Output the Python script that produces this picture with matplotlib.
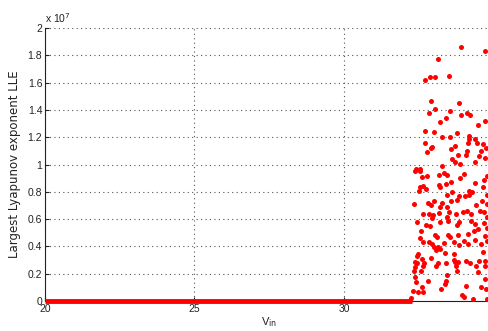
import matplotlib
matplotlib.use("Agg")
import matplotlib.pyplot as plt
from matplotlib.ticker import FuncFormatter

plt.rcParams['font.family'] = ['Liberation Sans', 'DejaVu Sans']

# LLE stays at zero up to this input voltage
zero_start = 20.0
zero_end = 32.27

# chaotic region: input voltage and largest Lyapunov exponent (in units of 1e7)
v_in = [
    33.90, 34.72, 33.14, 33.52, 32.71, 32.88, 33.05, 32.91, 33.04, 33.84,
    32.85, 33.55, 34.11, 34.21, 33.90, 33.43, 34.72, 33.21, 34.49, 32.71,
    33.00, 33.77, 34.19, 33.29, 33.55, 34.18, 34.38, 34.16, 34.46, 32.71,
    34.65, 33.70, 32.96, 32.92, 33.57, 34.75, 32.79, 34.12, 34.60, 33.80,
    34.08, 34.52, 34.72, 33.60, 33.72, 34.40, 33.89, 33.29, 32.55, 32.40,
    32.38, 32.54, 32.62, 32.77, 33.17, 33.35, 33.46, 34.03, 33.89, 34.78,
    33.59, 33.40, 33.17, 33.22, 34.69, 34.40, 32.65, 32.56, 32.75, 32.51,
    34.66, 34.19, 34.29, 33.60, 34.04, 34.17, 33.45, 34.78, 33.86, 33.01,
    32.82, 32.35, 33.28, 33.57, 33.77, 34.63, 32.92, 33.23, 33.45, 34.41,
    34.78, 33.50, 33.99, 34.11, 34.54, 34.69, 32.65, 32.83, 32.98, 33.17,
    33.74, 34.26, 32.96, 33.45, 34.78,
    32.45, 32.73, 32.87, 33.21, 33.47, 33.78, 33.86, 34.25, 34.40, 34.68,
    34.78, 32.57, 33.05, 33.13, 33.48, 33.55, 33.83, 34.16, 34.36, 34.47,
    34.72, 32.53, 32.64, 32.84, 32.93, 33.35, 33.68, 33.86, 34.01, 34.14,
    34.39, 34.58, 34.80, 33.02, 33.15, 33.08, 33.21, 33.38, 33.69, 34.65,
    32.47, 32.43, 32.90, 32.62, 32.37, 32.45, 32.68, 33.14, 33.41, 33.68,
    33.71, 33.82, 34.10, 34.22, 34.51, 34.73,
    32.39, 32.65, 33.07, 33.74, 34.41, 34.72, 32.36, 32.57, 33.77, 34.48,
    32.39, 32.40, 32.81, 33.44, 33.41, 34.72, 33.38, 33.25, 32.62, 34.08,
    34.60, 34.74, 32.31, 32.49, 32.64, 33.95, 34.02, 34.32, 34.78, 32.26,
]
lle = [
    1.86, 1.83, 1.77, 1.65, 1.62, 1.64, 1.64, 1.465, 1.41, 1.45,
    1.38, 1.39, 1.375, 1.36, 1.36, 1.34, 1.32, 1.31, 1.29, 1.245,
    1.236, 1.23, 1.21, 1.20, 1.20, 1.19, 1.19, 1.157, 1.16, 1.155,
    1.148, 1.135, 1.126, 1.12, 1.116, 1.12, 1.09, 1.097, 1.097, 1.07,
    1.072, 1.064, 1.05, 1.04, 1.018, 1.018, 1.004, 0.99, 0.965, 0.965,
    0.955, 0.95, 0.906, 0.915, 0.923, 0.935, 0.923, 0.93, 0.90, 0.915,
    0.87, 0.855, 0.848, 0.833, 0.886, 0.864, 0.842, 0.833, 0.82, 0.808,
    0.833, 0.808, 0.80, 0.80, 0.77, 0.774, 0.774, 0.774, 0.767, 0.73,
    0.716, 0.71, 0.716, 0.73, 0.737, 0.73, 0.70, 0.686, 0.689, 0.703,
    0.708, 0.65, 0.65, 0.66, 0.66, 0.652, 0.64, 0.64, 0.63, 0.643,
    0.64, 0.64, 0.606, 0.618, 0.615,
    0.577, 0.555, 0.547, 0.577, 0.584, 0.56, 0.579, 0.586, 0.564, 0.57,
    0.535, 0.513, 0.48, 0.467, 0.483, 0.469, 0.486, 0.488, 0.51, 0.525,
    0.478, 0.459, 0.434, 0.434, 0.418, 0.425, 0.432, 0.412, 0.437, 0.418,
    0.445, 0.418, 0.437, 0.396, 0.398, 0.371, 0.379, 0.352, 0.347, 0.361,
    0.342, 0.327, 0.317, 0.31, 0.284, 0.28, 0.276, 0.278, 0.28, 0.30,
    0.286, 0.283, 0.29, 0.278, 0.295, 0.295,
    0.249, 0.259, 0.256, 0.256, 0.254, 0.256, 0.22, 0.22, 0.218, 0.21,
    0.174, 0.137, 0.147, 0.19, 0.147, 0.161, 0.122, 0.09, 0.10, 0.108,
    0.10, 0.086, 0.075, 0.068, 0.064, 0.042, 0.032, 0.015, 0.017, 0.024,
]

x_ticks = [20, 25, 30, 35]
y_ticks = [0, 0.2, 0.4, 0.6, 0.8, 1.0, 1.2, 1.4, 1.6, 1.8, 2.0]

fig = plt.figure(figsize=(4.89, 3.31), dpi=100)
ax = fig.add_axes([0.092, 0.0906, 0.917, 0.8248])

ax.plot([zero_start, zero_end], [0, 0], color='red', linewidth=3.5,
        solid_capstyle='butt', clip_on=False, zorder=3)
ax.plot(v_in, lle, linestyle='none', marker='o', markersize=3.6,
        color='red', markeredgewidth=0, clip_on=False, zorder=3)

ax.set_xlim(20, 35)
ax.set_ylim(0, 2)
ax.set_xticks(x_ticks)
ax.set_yticks(y_ticks)
ax.yaxis.set_major_formatter(FuncFormatter(lambda v, p: '%g' % round(v, 1)))

ax.grid(True, linestyle=(0, (1, 3)), color='#555555', linewidth=0.8)
ax.set_axisbelow(True)
for side in ('top', 'right'):
    ax.spines[side].set_visible(False)
for side in ('left', 'bottom'):
    ax.spines[side].set_color('#222222')
    ax.spines[side].set_linewidth(0.8)

ax.tick_params(direction='in', length=3, width=0.8, labelsize=7.5,
               colors='#222222', pad=2)

ax.set_xlabel('V$_{\\mathrm{in}}$', fontsize=8, labelpad=1, color='#222222')
ax.set_ylabel('Largest Lyapunov exponent LLE', fontsize=8.5, labelpad=5,
              family='DejaVu Sans', color='#222222')
ax.text(0.0, 1.012, 'x 10$^{7}$', transform=ax.transAxes, fontsize=7.5,
        ha='left', va='bottom', color='#222222')

fig.savefig('out.png', dpi=100)
